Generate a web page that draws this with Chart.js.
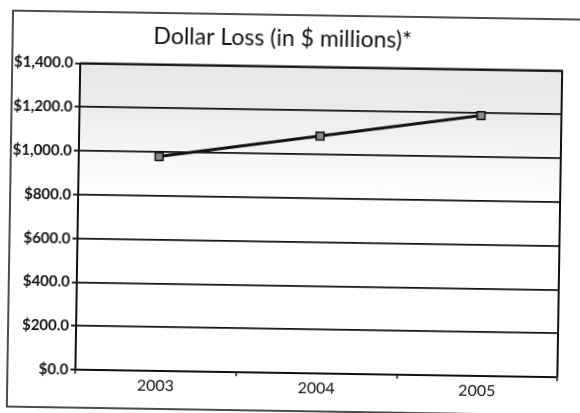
<!DOCTYPE html>
<html>
<head>
<meta charset="utf-8">
<script src="https://cdn.jsdelivr.net/npm/chart.js@4/dist/chart.umd.min.js"></script>
<style>
    html, body { margin: 0; padding: 0; background: #fff; overflow: hidden; }
    /* the whole figure sits slightly tilted */
    #wrap { width: 580px; height: 413px; transform: rotate(0.9deg); transform-origin: 50% 50%; }
</style>
</head>
<body>
<div id="wrap"><canvas id="loss-chart" width="580" height="413"></canvas></div>
<script>
// Chart data
const years = ['2003', '2004', '2005'];
const dollarLoss = [980, 1085, 1190];
const yTicks = [0, 200, 400, 600, 800, 1000, 1200, 1400];

const face = "Lato, 'Open Sans', sans-serif";

// Format axis values like "$1,400.0"
function money(v) {
    return '$' + Number(v).toLocaleString('en-US', { minimumFractionDigits: 1, maximumFractionDigits: 1 });
}

// Light gray shading at the top of the plot, outer frame and plot border
const framePlugin = {
    id: 'frame',
    beforeDraw(chart) {
        const ctx = chart.ctx;
        const a = chart.chartArea;
        const y = chart.scales.y;
        const fadeTo = y.getPixelForValue(800);
        ctx.save();
        const g = ctx.createLinearGradient(0, a.top, 0, fadeTo);
        g.addColorStop(0, '#e7e7e7');
        g.addColorStop(0.35, '#ececec');
        g.addColorStop(0.7, '#f6f6f6');
        g.addColorStop(1, '#ffffff');
        ctx.fillStyle = g;
        ctx.fillRect(a.left, a.top, a.right - a.left, fadeTo - a.top);

        // outer chart frame
        ctx.strokeStyle = '#111';
        ctx.lineWidth = 1.5;
        ctx.beginPath();
        ctx.moveTo(600, 15);
        ctx.lineTo(10, 15);
        ctx.lineTo(10, 411);
        ctx.lineTo(600, 411);
        ctx.stroke();
        ctx.restore();
    },
    afterDatasetsDraw(chart) {
        const ctx = chart.ctx;
        const a = chart.chartArea;
        ctx.save();
        ctx.strokeStyle = '#111';
        ctx.lineWidth = 2;
        ctx.beginPath();
        ctx.moveTo(a.left, a.top);
        ctx.lineTo(a.right, a.top);
        ctx.lineTo(a.right, a.bottom);
        ctx.stroke();
        ctx.restore();
    }
};

const ctx = document.getElementById('loss-chart').getContext('2d');
const chart = new Chart(ctx, {
    type: 'line',
    data: {
        labels: years,
        datasets: [{
            label: 'Dollar Loss',
            data: dollarLoss,
            borderColor: '#111',
            borderWidth: 3,
            pointStyle: 'rect',
            pointRadius: 5.5,
            pointBackgroundColor: '#8a8a8a',
            pointBorderColor: '#111',
            pointBorderWidth: 1.5,
            tension: 0
        }]
    },
    options: {
        responsive: false,
        animation: false,
        layout: {
            padding: { left: 0, right: 20, top: 0, bottom: 0 }
        },
        plugins: {
            legend: { display: false },
            tooltip: { enabled: false },
            title: {
                display: true,
                text: 'Dollar Loss (in $ millions)*',
                color: '#111',
                font: { family: face, size: 23, weight: 'normal', lineHeight: 1.2 },
                padding: { top: 25, bottom: 14 }
            }
        },
        scales: {
            x: {
                offset: true,
                border: { display: true, color: '#111', width: 2 },
                grid: {
                    offset: true,
                    drawOnChartArea: false,
                    drawTicks: true,
                    tickLength: 4,
                    color: '#111',
                    lineWidth: 1.5
                },
                ticks: {
                    color: '#111',
                    padding: 1,
                    font: { family: face, size: 16 }
                },
                afterFit(scale) { scale.height = 40; }
            },
            y: {
                min: 0,
                max: 1400,
                afterBuildTicks(scale) { scale.ticks = yTicks.map(v => ({ value: v })); },
                border: { display: true, color: '#111', width: 2 },
                grid: {
                    color: '#111',
                    lineWidth: 1.8,
                    tickLength: 5
                },
                ticks: {
                    color: '#111',
                    padding: 2,
                    font: { family: face, size: 15, weight: 'bold' },
                    callback: v => money(v)
                },
                afterFit(scale) { scale.width = 78; }
            }
        }
    },
    plugins: [framePlugin]
});
</script>
</body>
</html>
